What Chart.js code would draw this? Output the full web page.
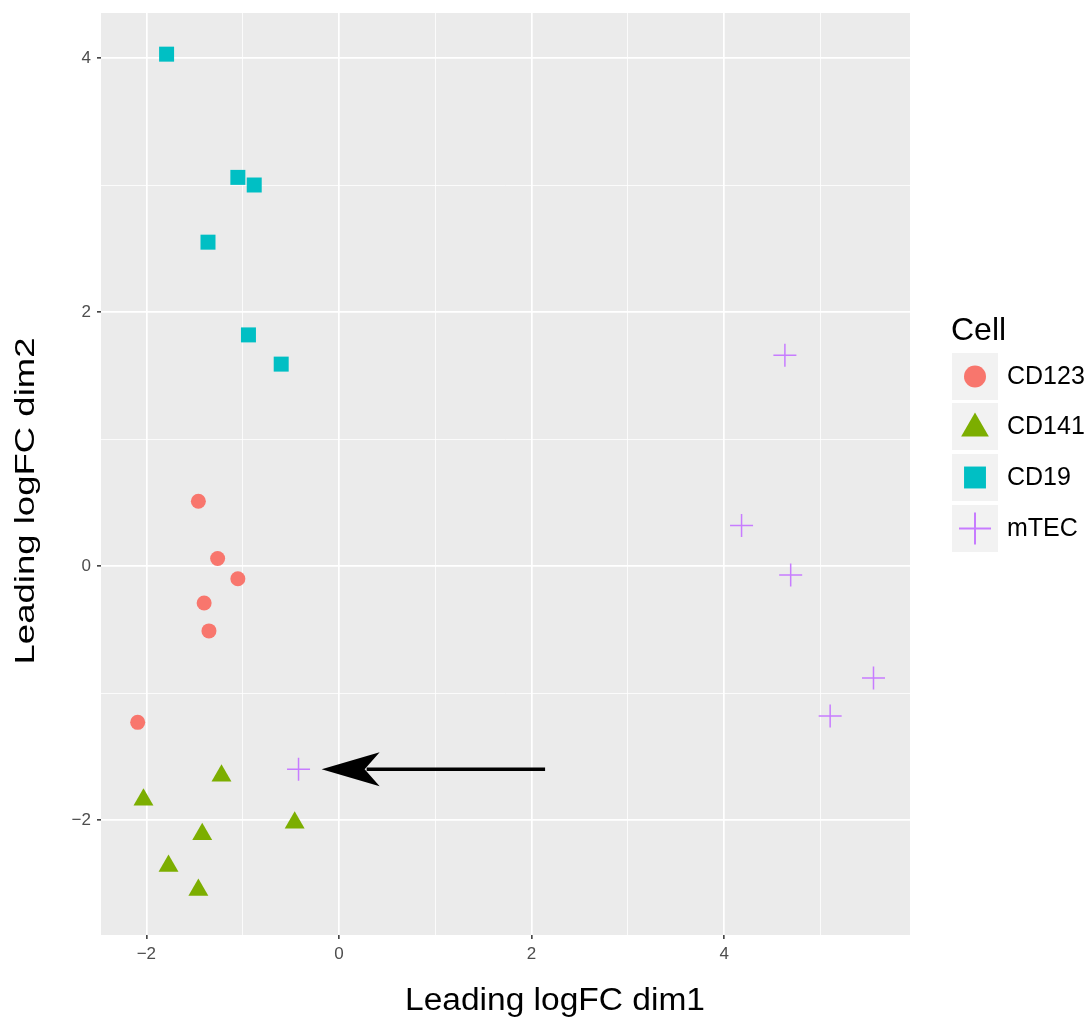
<!DOCTYPE html>
<html>
<head>
<meta charset="utf-8">
<script src="https://cdn.jsdelivr.net/npm/chart.js@4/dist/chart.umd.min.js"></script>
<style>
  html, body { margin: 0; padding: 0; background: #fff; }
  #wrap { width: 1092px; height: 1019px; }
</style>
</head>
<body>
<div id="wrap"><canvas id="mdsChart" width="1092" height="1019"></canvas></div>
<script>
// values
var cellNames = ["CD123", "CD141", "CD19", "mTEC"];
var cd123X = [-1.46, -1.26, -1.05, -1.40, -1.35, -2.09];
var cd123Y = [0.51, 0.06, -0.10, -0.29, -0.51, -1.23];
var cd141X = [-1.22, -2.03, -0.46, -1.42, -1.77, -1.46];
var cd141Y = [-1.65, -1.84, -2.02, -2.11, -2.36, -2.55];
var cd19X = [-1.79, -1.05, -0.88, -1.36, -0.94, -0.60];
var cd19Y = [4.03, 3.06, 3.00, 2.55, 1.82, 1.59];
var mtecX = [-0.42, 4.63, 4.18, 4.69, 5.55, 5.10];
var mtecY = [-1.60, 1.66, 0.32, -0.07, -0.88, -1.18];
var arrowTail = [2.14, -1.60];
var arrowTip = [-0.18, -1.60];
var xMajor = [-2, 0, 2, 4];
var xMinor = [-1, 1, 3, 5];
var yMajor = [-2, 0, 2, 4];
var yMinor = [-1, 1, 3];

var colors = ["#F8766D", "#7CAE00", "#00BFC4", "#C77CFF"];
var shapes = ["circle", "triangle", "rect", "cross"];

function pts(xs, ys) {
    return xs.map(function (x, i) { return { x: x, y: ys[i] }; });
}

function tickLabel(v, major) {
    if (major.indexOf(v) < 0) return '';
    return String(v).replace('-', '\u2212');
}

function gridWidth(major) {
    return function (c) { return (c.tick && major.indexOf(c.tick.value) >= 0) ? 1.7 : 0.8; };
}
function tickCol(major) {
    return function (c) { return (c.tick && major.indexOf(c.tick.value) >= 0) ? '#333333' : 'rgba(0,0,0,0)'; };
}

var panelBg = {
    id: 'panelBg',
    beforeDraw: function (chart) {
        var a = chart.chartArea, ctx = chart.ctx;
        ctx.save();
        ctx.fillStyle = '#EBEBEB';
        ctx.fillRect(a.left, a.top, a.right - a.left, a.bottom - a.top);
        ctx.restore();
    }
};

// black arrow pointing at the odd mTEC sample
var arrowPlugin = {
    id: 'arrowPlugin',
    afterDatasetsDraw: function (chart) {
        var ctx = chart.ctx, sx = chart.scales.x, sy = chart.scales.y;
        var x0 = sx.getPixelForValue(arrowTail[0]), y0 = sy.getPixelForValue(arrowTail[1]);
        var x1 = sx.getPixelForValue(arrowTip[0]), y1 = sy.getPixelForValue(arrowTip[1]);
        ctx.save();
        ctx.strokeStyle = '#000';
        ctx.fillStyle = '#000';
        ctx.lineWidth = 3.5;
        ctx.beginPath();
        ctx.moveTo(x0, y0);
        ctx.lineTo(x1 + 45, y1);
        ctx.stroke();
        ctx.beginPath();
        ctx.moveTo(x1, y1);
        ctx.lineTo(x1 + 58, y1 - 17);
        ctx.lineTo(x1 + 43, y1);
        ctx.lineTo(x1 + 58, y1 + 17);
        ctx.closePath();
        ctx.fill();
        ctx.restore();
    }
};

function stretchedText(ctx, txt, x, y, len, rot) {
    ctx.save();
    ctx.translate(x, y);
    if (rot) ctx.rotate(rot);
    var w = ctx.measureText(txt).width;
    ctx.scale(len / w, 1);
    ctx.textAlign = 'center';
    ctx.fillText(txt, 0, 0);
    ctx.restore();
}

var labelsPlugin = {
    id: 'labelsPlugin',
    afterDraw: function (chart) {
        var ctx = chart.ctx;
        ctx.save();
        ctx.fillStyle = '#000';
        ctx.textBaseline = 'alphabetic';
        ctx.font = '31px "Liberation Sans", Arial, sans-serif';
        stretchedText(ctx, 'Leading logFC dim1', 555, 1010, 300, 0);
        ctx.font = '28px "Liberation Sans", Arial, sans-serif';
        stretchedText(ctx, 'Leading logFC dim2', 34, 501, 327, -Math.PI / 2);

        // legend
        ctx.font = '32px "Liberation Sans", Arial, sans-serif';
        ctx.textAlign = 'left';
        ctx.fillText('Cell', 951, 340);
        var keyTops = [353, 403, 454, 505];
        var keyR = [11, 16, 15.5, 16];
        ctx.font = '25px "Liberation Sans", Arial, sans-serif';
        ctx.textBaseline = 'middle';
        for (var i = 0; i < cellNames.length; i++) {
            var top = keyTops[i];
            ctx.fillStyle = '#F2F2F2';
            ctx.fillRect(952, top, 46, 47);
            var cy = top + 23.5;
            ctx.fillStyle = colors[i];
            ctx.strokeStyle = colors[i];
            ctx.lineWidth = 2;
            Chart.helpers.drawPoint(ctx, {
                pointStyle: shapes[i],
                radius: keyR[i],
                rotation: 0,
                borderWidth: shapes[i] === 'cross' ? 2 : 0
            }, 975, i === 1 ? cy + 2 : cy);
            ctx.fillStyle = '#000';
            ctx.fillText(cellNames[i], 1007, cy + 1);
        }
        ctx.restore();
    }
};

var tickFont = { family: '"Liberation Sans", Arial, sans-serif', size: 17 };

new Chart('mdsChart', {
    type: 'scatter',
    data: {
        datasets: [
            { label: cellNames[0], data: pts(cd123X, cd123Y), pointStyle: 'circle', pointRadius: 7.5,
              backgroundColor: colors[0], borderColor: colors[0], borderWidth: 0 },
            { label: cellNames[1], data: pts(cd141X, cd141Y), pointStyle: 'triangle', pointRadius: 11.5,
              backgroundColor: colors[1], borderColor: colors[1], borderWidth: 0 },
            { label: cellNames[2], data: pts(cd19X, cd19Y), pointStyle: 'rect', pointRadius: 10.6,
              backgroundColor: colors[2], borderColor: colors[2], borderWidth: 0 },
            { label: cellNames[3], data: pts(mtecX, mtecY), pointStyle: 'cross', pointRadius: 11.5,
              backgroundColor: colors[3], borderColor: colors[3], borderWidth: 1.5 }
        ]
    },
    options: {
        responsive: false,
        animation: false,
        events: [],
        layout: { padding: { left: 0, right: 182, top: 12, bottom: 0 } },
        plugins: { legend: { display: false }, tooltip: { enabled: false } },
        scales: {
            x: {
                type: 'linear',
                min: -2.471,
                max: 5.929,
                afterBuildTicks: function (axis) {
                    axis.ticks = xMajor.concat(xMinor).sort(function (a, b) { return a - b; })
                        .map(function (v) { return { value: v }; });
                },
                afterFit: function (axis) {
                    axis.height = 84;
                    axis.paddingLeft = 0;
                    axis.paddingRight = 0;
                },
                border: { display: false },
                grid: {
                    color: '#FFFFFF',
                    lineWidth: gridWidth(xMajor),
                    drawTicks: true,
                    tickLength: 4,
                    tickWidth: 1.5,
                    tickColor: tickCol(xMajor)
                },
                ticks: {
                    autoSkip: false,
                    maxRotation: 0,
                    padding: 5,
                    color: '#4D4D4D',
                    font: tickFont,
                    callback: function (v) { return tickLabel(v, xMajor); }
                }
            },
            y: {
                type: 'linear',
                min: -2.904,
                max: 4.354,
                afterBuildTicks: function (axis) {
                    axis.ticks = yMajor.concat(yMinor).sort(function (a, b) { return a - b; })
                        .map(function (v) { return { value: v }; });
                },
                afterFit: function (axis) {
                    axis.width = 101;
                    axis.paddingTop = 0;
                    axis.paddingBottom = 0;
                },
                border: { display: false },
                grid: {
                    color: '#FFFFFF',
                    lineWidth: gridWidth(yMajor),
                    drawTicks: true,
                    tickLength: 4,
                    tickWidth: 1.5,
                    tickColor: tickCol(yMajor)
                },
                ticks: {
                    autoSkip: false,
                    padding: 6,
                    color: '#4D4D4D',
                    font: tickFont,
                    callback: function (v) { return tickLabel(v, yMajor); }
                }
            }
        }
    },
    plugins: [panelBg, arrowPlugin, labelsPlugin]
});
</script>
</body>
</html>
